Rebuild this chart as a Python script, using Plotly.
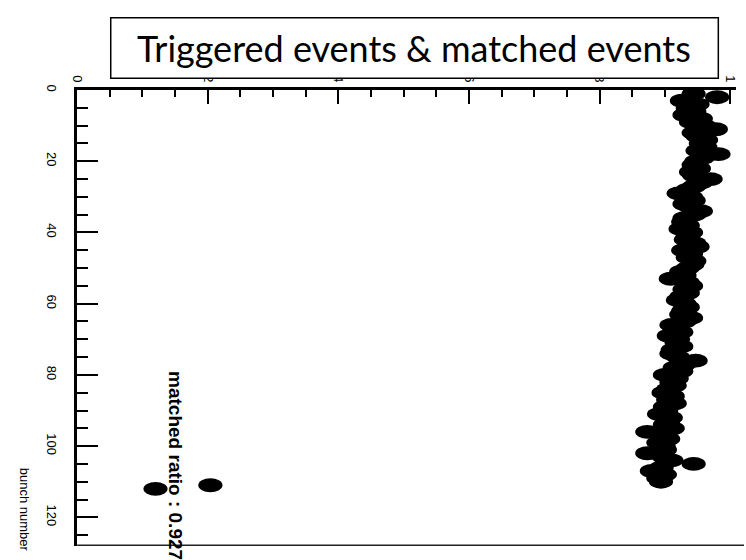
import plotly.graph_objects as go

# ---- data ----
bunch_main = list(range(1, 111))
ratio_main = [
    0.944, 0.980, 0.926, 0.950, 0.935, 0.945, 0.930, 0.955, 0.940, 0.960,
    0.978, 0.944, 0.950, 0.963, 0.955, 0.962, 0.950, 0.982, 0.958, 0.948,
    0.944, 0.952, 0.940, 0.945, 0.970, 0.955, 0.945, 0.935, 0.921, 0.940,
    0.944, 0.930, 0.940, 0.955, 0.945, 0.930, 0.928, 0.935, 0.924, 0.940,
    0.935, 0.932, 0.945, 0.950, 0.928, 0.940, 0.935, 0.945, 0.942, 0.935,
    0.925, 0.930, 0.909, 0.935, 0.940, 0.930, 0.935, 0.925, 0.920, 0.930,
    0.935, 0.928, 0.925, 0.940, 0.930, 0.910, 0.918, 0.925, 0.906, 0.920,
    0.918, 0.925, 0.912, 0.910, 0.920, 0.947, 0.930, 0.915, 0.925, 0.900,
    0.918, 0.910, 0.915, 0.905, 0.898, 0.912, 0.905, 0.915, 0.900, 0.902,
    0.891, 0.909, 0.905, 0.900, 0.912, 0.873, 0.900, 0.905, 0.890, 0.898,
    0.900, 0.873, 0.898, 0.910, 0.944, 0.895, 0.880, 0.900, 0.890, 0.894,
]
bunch_out = [111, 112]
ratio_out = [0.204, 0.120]

bunches = bunch_main + bunch_out
ratios = ratio_main + ratio_out

x_ticks = [0, 0.2, 0.4, 0.6, 0.8, 1.0]
y_ticks = [0, 20, 40, 60, 80, 100, 120]

title_text = "Triggered events & matched events"
ratio_text = "matched ratio : 0.927"
y_title = "bunch number"

W, H = 746, 560
sans = "Liberation Sans, Arial, sans-serif"

fig = go.Figure()
fig.add_trace(go.Scatter(
    x=ratios, y=bunches, mode="markers",
    marker=dict(symbol="circle", size=12, color="black"),
    hoverinfo="x+y",
))

# elliptical markers (wider than tall) drawn in data coordinates
hw, hh = 0.0185, 1.95
shapes = []
for b, r in zip(bunches, ratios):
    shapes.append(dict(type="circle", xref="x", yref="y",
                       x0=r - hw, x1=r + hw, y0=b - hh, y1=b + hh,
                       fillcolor="black", line=dict(width=0), layer="below"))

# bottom frame line
shapes.append(dict(type="line", xref="paper", yref="paper",
                   x0=71 / W, x1=1, y0=1 - 545 / H, y1=1 - 545 / H,
                   line=dict(color="#222", width=1.5), layer="above"))
# title box
shapes.append(dict(type="rect", xref="paper", yref="paper",
                   x0=105 / W, x1=720 / W, y0=1 - 73 / H, y1=1 - 12 / H,
                   fillcolor="white", line=dict(color="black", width=1.5),
                   layer="above"))

fig.update_layout(
    width=W, height=H,
    margin=dict(l=0, r=0, t=0, b=0),
    plot_bgcolor="white", paper_bgcolor="white",
    showlegend=False,
    shapes=shapes,
    xaxis=dict(
        domain=[71 / W, 738 / W], range=[0, 1.009], side="top",
        showline=True, linecolor="black", linewidth=3,
        ticks="inside", ticklen=14, tickwidth=2, tickcolor="black",
        tickvals=x_ticks, tickangle=90,
        tickfont=dict(family=sans, size=13, color="black"),
        showgrid=False, zeroline=False,
        minor=dict(ticks="inside", ticklen=7, tickwidth=2, tickcolor="black",
                   dtick=0.05, showgrid=False),
    ),
    yaxis=dict(
        domain=[1 - 546 / H, 1 - 85 / H], range=[128.1, 0],
        showline=True, linecolor="black", linewidth=3,
        ticks="inside", ticklen=21, tickwidth=2, tickcolor="black",
        tickvals=y_ticks, tickangle=90, ticklabelstandoff=12,
        tickfont=dict(family=sans, size=13, color="black"),
        showgrid=False, zeroline=False,
        minor=dict(ticks="inside", ticklen=11, tickwidth=2, tickcolor="black",
                   dtick=5, tick0=0, showgrid=False),
    ),
    annotations=[
        dict(text=title_text, xref="paper", yref="paper",
             x=412 / W, y=1 - 42 / H, xanchor="center", yanchor="middle",
             showarrow=False,
             font=dict(family="Lato, Open Sans, sans-serif", size=36, color="black")),
        dict(text=ratio_text, xref="paper", yref="paper",
             x=171 / W, y=1 - 465 / H, xanchor="center", yanchor="middle",
             showarrow=False, textangle=90,
             font=dict(family=sans, size=19, color="black", weight="bold")),
        dict(text=y_title, xref="paper", yref="paper",
             x=18 / W, y=1 - 509 / H, xanchor="center", yanchor="middle",
             showarrow=False, textangle=90,
             font=dict(family=sans, size=13, color="black")),
    ],
)

fig.write_html("out.html")
